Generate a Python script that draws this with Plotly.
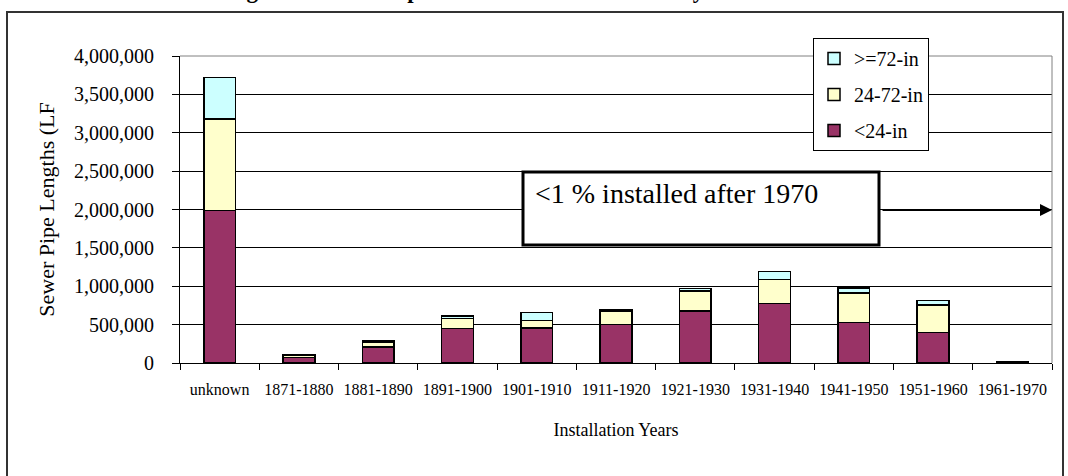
import plotly.graph_objects as go

categories = ["unknown", "1871-1880", "1881-1890", "1891-1900", "1901-1910", "1911-1920",
              "1921-1930", "1931-1940", "1941-1950", "1951-1960", "1961-1970"]
small_lt24 = [1990000, 70000, 210000, 450000, 455000, 500000, 675000, 775000, 530000, 395000, 15000]
mid_24_72 = [1190000, 25000, 62000, 130000, 100000, 175000, 265000, 315000, 385000, 360000, 5000]
large_ge72 = [540000, 10000, 12000, 30000, 100000, 25000, 30000, 105000, 60000, 60000, 0]
series_names = ["<24-in", "24-72-in", ">=72-in"]
series_colors = ["#993366", "#FFFFCC", "#CCFFFF"]
legend_ranks = [3, 2, 1]
y_ticks = [0, 500000, 1000000, 1500000, 2000000, 2500000, 3000000, 3500000, 4000000]

title_text = "Figure 3: Sewer Pipe Installation Distribution by Decade"
note_text = "<1 % installed after 1970"

W, H = 1068, 476
ML, MR, MT, MB = 180, 16, 56, 113
PW, PH = W - ML - MR, H - MT - MB


def px_x(p):
    return (p - ML) / PW


def px_y(p):
    return (H - MB - p) / PH


SERIF = "Liberation Serif, Times New Roman, serif"

fig = go.Figure()
for name, vals, col, rank in zip(series_names, [small_lt24, mid_24_72, large_ge72], series_colors, legend_ranks):
    fig.add_trace(go.Bar(
        x=categories, y=vals, name=name, legendgroup=name, legendrank=rank,
        marker=dict(color=col, line=dict(color="black", width=1.5)),
    ))

fig.update_layout(
    width=W, height=H,
    margin=dict(l=ML, r=MR, t=MT, b=MB),
    barmode="stack", bargap=0.6,
    paper_bgcolor="white", plot_bgcolor="white",
    font=dict(family=SERIF, color="black"),
    showlegend=True,
    legend=dict(
        x=px_x(813), y=px_y(38), xanchor="left", yanchor="top",
        bordercolor="black", borderwidth=1, bgcolor="white",
        font=dict(family=SERIF, size=20, color="black"),
        traceorder="grouped", tracegroupgap=7,
        itemwidth=30,
    ),
    xaxis=dict(
        type="category", showline=True, linecolor="black", linewidth=1,
        ticks="outside", tickson="boundaries", ticklen=6, tickcolor="black",
        tickfont=dict(family=SERIF, size=16, color="black"),
        ticklabelstandoff=12,
        title=dict(text="Installation Years", font=dict(family=SERIF, size=18, color="black"), standoff=26),
        showgrid=False, automargin=False,
    ),
    yaxis=dict(
        range=[0, 4000000], tickvals=y_ticks, tickformat=",",
        showline=True, linecolor="black", linewidth=1,
        ticks="outside", ticklen=7, tickcolor="black",
        tickfont=dict(family=SERIF, size=20, color="black"),
        ticklabelstandoff=14,
        showgrid=True, gridcolor="black", gridwidth=1, zeroline=False,
        title=dict(text="Sewer Pipe Lengths (LF", font=dict(family=SERIF, size=22, color="black"), standoff=13),
        automargin=False,
    ),
)

shapes = [
    # outer chart border
    dict(type="rect", xref="paper", yref="paper", x0=px_x(7), x1=px_x(1063), y0=px_y(485), y1=px_y(12),
         line=dict(color="#333333", width=2), fillcolor="rgba(0,0,0,0)", layer="above"),
    # plot area top/right border
    dict(type="line", xref="paper", yref="paper", x0=0, x1=1, y0=1, y1=1, line=dict(color="#808080", width=1)),
    dict(type="line", xref="paper", yref="paper", x0=1, x1=1, y0=0, y1=1, line=dict(color="#808080", width=1)),
    # annotation box
    dict(type="rect", xref="paper", yref="paper", x0=px_x(523), x1=px_x(879), y0=px_y(245), y1=px_y(172),
         line=dict(color="black", width=3), fillcolor="white", layer="above"),
]
fig.update_layout(shapes=shapes)

fig.add_annotation(
    xref="paper", yref="paper", x=px_x(533), y=px_y(193), xanchor="left", yanchor="middle",
    text=note_text, showarrow=False, font=dict(family=SERIF, size=28, color="black"),
)
fig.add_annotation(
    xref="paper", yref="paper", x=1.0, y=px_y(210), ax=-(1052 - 881), ay=0,
    axref="pixel", ayref="pixel", text="", showarrow=True,
    arrowhead=2, arrowsize=1.2, arrowwidth=2, arrowcolor="black",
)
fig.add_annotation(
    xref="paper", yref="paper", x=px_x(224), y=px_y(5), xanchor="left", yanchor="bottom",
    text="<b>" + title_text + "</b>", showarrow=False,
    font=dict(family=SERIF, size=23, color="black"),
)

fig.write_html("out.html", config={"displayModeBar": False},
               post_script="document.body.style.margin='0';")
